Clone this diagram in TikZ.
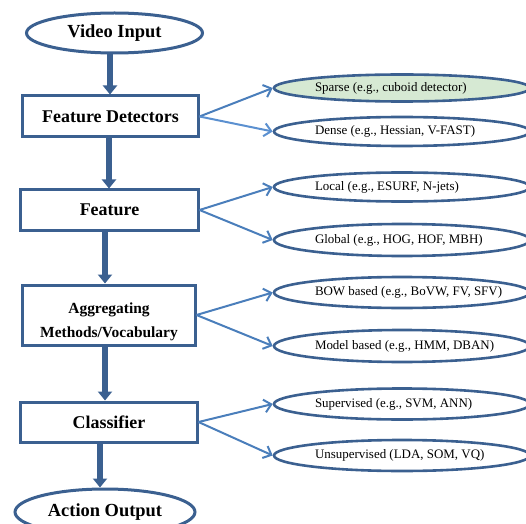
\documentclass[tikz,border=0pt]{standalone}
\usepackage{fontspec}
\setmainfont{Liberation Serif}
\usetikzlibrary{arrows.meta,shapes.geometric}
\definecolor{bord}{HTML}{3B6090}
\definecolor{thinA}{HTML}{4A7EBB}
\definecolor{thinB}{HTML}{5B90D0}
\definecolor{greenfill}{HTML}{D6E9D3}
\newcommand{\sidetext}[1]{\makebox[0pt][l]{\hspace*{-87bp}#1}}
\tikzset{
  mainbox/.style={draw=bord, line width=3bp, fill=white, minimum width=175bp, minimum height=41bp, inner sep=2bp, font=\fontsize{18}{20}\selectfont\bfseries, align=center},
  mainell/.style={draw=bord, line width=3bp, fill=white, ellipse, minimum width=176bp, minimum height=40bp, inner sep=0pt, font=\fontsize{18.5}{20}\selectfont\bfseries},
  sideell/.style={draw=bord, line width=2.6bp, fill=white, ellipse, minimum width=256bp, minimum height=29bp, inner sep=0pt, font=\fontsize{13}{14}\selectfont},
  bigarrow/.style={draw=bord, line width=5.5bp, -{Triangle[width=14bp,length=9bp]}},
  thinarrow/.style={line width=2bp, -{Straight Barb[length=7bp,width=13bp]}},
}
\begin{document}
\begin{tikzpicture}[x=1bp,y=-1bp]
\useasboundingbox (0,0) rectangle (526,524);
\clip (0,0) rectangle (526,524);
% main column
\node[mainell] (vi) at (114.5,33) {Video Input};
\node[mainbox] (fd) at (110.5,116.5) {Feature Detectors};
\node[mainbox, minimum width=177bp, minimum height=40bp] (fe) at (109.5,210) {Feature};
\node[mainbox, minimum width=172bp, minimum height=60bp] (ag) at (109,315) {};
\node[font=\fontsize{15.5}{24}\selectfont\bfseries, align=center, inner sep=0pt] (agt) at (109,322) {Aggregating\\Methods/Vocabulary};
\node[mainbox, minimum width=176bp, minimum height=40bp] (cl) at (109,422) {Classifier};
\node[mainell, minimum width=180bp, minimum height=46bp] (ao) at (105,512) {\raisebox{3bp}{Action Output}};
% side ellipses
\node[sideell, fill=greenfill, minimum height=27bp] (sp) at (402,88) {\sidetext{Sparse (e.g., cuboid detector)}};
\node[sideell] (de) at (402,131.5) {\sidetext{Dense (e.g., Hessian, V-FAST)}};
\node[sideell] (lo) at (402,187) {\sidetext{Local (e.g., ESURF, N-jets)}};
\node[sideell, minimum height=32bp] (gl) at (402,240) {\sidetext{Global (e.g., HOG, HOF, MBH)}};
\node[sideell, minimum height=31bp] (bo) at (402,292.5) {\sidetext{BOW based (e.g., BoVW, FV, SFV)}};
\node[sideell, minimum height=32bp] (mo) at (402,346) {\sidetext{Model based (e.g., HMM, DBAN)}};
\node[sideell, minimum height=31bp] (su) at (402,404) {\sidetext{Supervised (e.g., SVM, ANN)}};
\node[sideell, minimum height=31bp] (un) at (402,455.5) {\sidetext{Unsupervised (LDA, SOM, VQ)}};
% main arrows
\draw[bigarrow] (vi.south -| 110,0) -- (fd.north -| 110,0);
\draw[bigarrow] (fd.south -| 109,0) -- (fe.north -| 109,0);
\draw[bigarrow] (fe.south -| 105,0) -- (ag.north -| 105,0);
\draw[bigarrow] (ag.south -| 105,0) -- (cl.north -| 105,0);
\draw[bigarrow] (cl.south -| 100,0) -- (ao.north -| 100,0);
% side arrows
\draw[thinarrow, thinA] (fd.east) -- (sp.west);
\draw[thinarrow, thinB] (fd.east) -- (de.west);
\draw[thinarrow, thinA] (fe.east) -- (lo.west);
\draw[thinarrow, thinA] (fe.east) -- (gl.west);
\draw[thinarrow, thinA] (ag.east) -- (bo.west);
\draw[thinarrow, thinA] (ag.east) -- (mo.west);
\draw[thinarrow, thinA] (cl.east) -- (su.west);
\draw[thinarrow, thinA] (cl.east) -- (un.west);
\end{tikzpicture}
\end{document}
